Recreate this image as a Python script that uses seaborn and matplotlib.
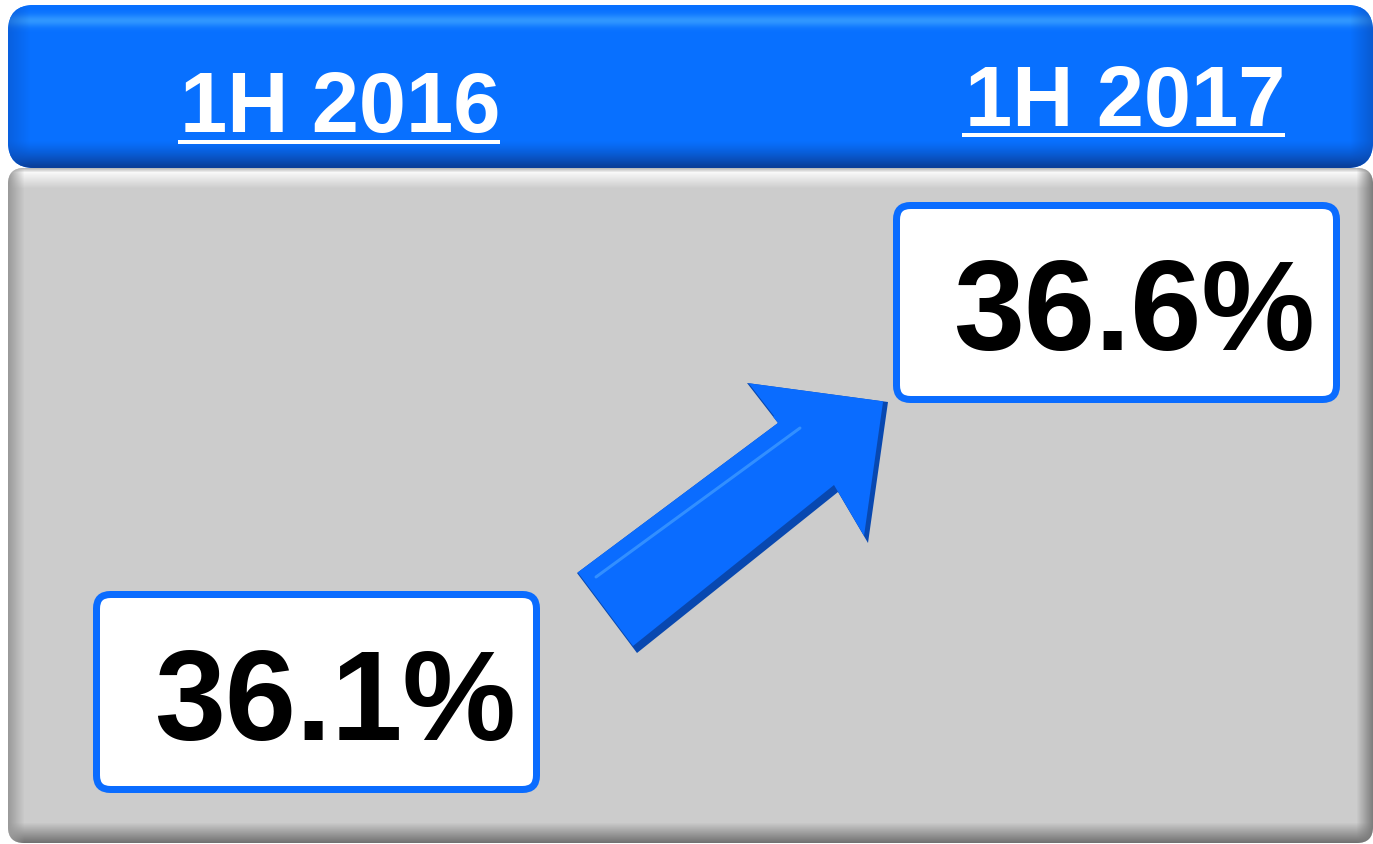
import numpy as np
import matplotlib
matplotlib.use("Agg")
import matplotlib.pyplot as plt
from matplotlib.patches import FancyBboxPatch, Polygon
import seaborn as sns

# ---- data ----
periods = ["1H 2016", "1H 2017"]
ratios = [36.1, 36.6]

sns.set_theme(style="white")
plt.rcParams['font.family'] = ['Liberation Sans', 'DejaVu Sans']

W, H = 1373, 844
fig = plt.figure(figsize=(W / 100, H / 100), dpi=100)
fig.patch.set_facecolor("white")
ax = fig.add_axes([0, 0, 1, 1])
ax.set_xlim(0, W)
ax.set_ylim(H, 0)
ax.axis("off")

PX = 72 / 100  # points per pixel


def rgb(h):
    return np.array(matplotlib.colors.to_rgb(h))


# ---- gray panel ----
px0, px1, py0, py1 = 8, 1373, 168, 843
panel = FancyBboxPatch((px0, py0), px1 - px0, py1 - py0,
                       boxstyle="round,pad=0,rounding_size=16",
                       fc="#cccccc", ec="none", zorder=1)
ax.add_patch(panel)
gray = rgb("#cccccc")
nx, ny = px1 - px0, py1 - py0
img = np.ones((ny, nx, 3)) * gray
ys = np.arange(ny) + py0
xs = np.arange(nx) + px0
top = rgb("#f8f8f8")
for i, y in enumerate(ys):
    if y < 188:
        t = np.clip((y - 172) / 16, 0, 1)
        img[i] = top * (1 - t) + gray * t
    if y < 172:
        t = (172 - y) / 4
        img[i] = top * (1 - t) + rgb("#bbbbbb") * t
for i, y in enumerate(ys):
    if y > 822:
        t = np.clip((y - 822) / 21, 0, 1)
        img[i] = img[i] * (1 - t) + rgb("#6e6e6e") * t
for j, x in enumerate(xs):
    if x > 1356:
        t = np.clip((x - 1356) / 17, 0, 1)
        img[:, j] = img[:, j] * (1 - t) + rgb("#7a7a7a") * t
    if x < 24:
        t = np.clip((24 - x) / 16, 0, 1)
        img[:, j] = img[:, j] * (1 - t) + rgb("#9a9a9a") * t
im = ax.imshow(img, extent=(px0, px1, py1, py0), zorder=2, aspect="auto",
               interpolation="bilinear")
im.set_clip_path(panel)

# ---- blue header ----
hx0, hx1, hy0, hy1 = 8, 1373, 5, 168
header = FancyBboxPatch((hx0, hy0), hx1 - hx0, hy1 - hy0,
                        boxstyle="round,pad=0,rounding_size=26",
                        fc="#0870ff", ec="none", zorder=3)
ax.add_patch(header)
blue = rgb("#0870ff")
nx, ny = hx1 - hx0, hy1 - hy0
himg = np.ones((ny, nx, 3)) * blue
ys = np.arange(ny) + hy0
xs = np.arange(nx) + hx0
for i, y in enumerate(ys):
    if y < 32:
        t = np.exp(-((y - 20) / 6.0) ** 2) * 0.8
        himg[i] = blue * (1 - t) + rgb("#3aa0ff") * t
    if y > 140:
        t = np.clip((y - 140) / 26, 0, 1) ** 1.3
        himg[i] = himg[i] * (1 - t) + rgb("#0a3f9a") * t
for j, x in enumerate(xs):
    if x < 30:
        t = np.clip((30 - x) / 22, 0, 1) * 0.5
        himg[:, j] = himg[:, j] * (1 - t) + rgb("#0a50c0") * t
    if x > 1350:
        t = np.clip((x - 1350) / 23, 0, 1) * 0.6
        himg[:, j] = himg[:, j] * (1 - t) + rgb("#0a4ab0") * t
him = ax.imshow(himg, extent=(hx0, hx1, hy1, hy0), zorder=4, aspect="auto",
                interpolation="bilinear")
him.set_clip_path(header)

# ---- header labels ----
head_pos = [(340, 132, 178, 500, 142), (1125, 126, 962, 1285, 135)]
for label, (cx, base, ux0, ux1, uy) in zip(periods, head_pos):
    ax.text(cx, base, label, color="white", fontsize=61, fontweight="bold",
            ha="center", va="baseline", zorder=6)
    ax.plot([ux0, ux1], [uy, uy], color="white", lw=4 * PX,
            solid_capstyle="butt", zorder=6)

# ---- value boxes ----
box_pos = [(96.5, 594.5, 440, 195, 335, 740),
           (896.5, 205.5, 440, 194, 1134, 350)]
for val, (bx, by, bw, bh, tx, ty) in zip(ratios, box_pos):
    box = FancyBboxPatch((bx, by), bw, bh,
                         boxstyle="round,pad=0,rounding_size=14",
                         fc="white", ec="#0a6cff", lw=7 * PX, zorder=7)
    ax.add_patch(box)
    ax.text(tx, ty, f"{val:.1f}%", color="black", fontsize=92,
            fontweight="bold", ha="center", va="baseline", zorder=8)

# ---- arrow ----
arrow_pts = np.array([(577, 573), (778, 423), (747, 383), (888, 402),
                      (868, 543), (838, 492), (637, 653)], dtype=float)
base_poly = Polygon(arrow_pts, closed=True, fc="#0848b0", ec="none", zorder=5)
ax.add_patch(base_poly)
main_poly = Polygon(arrow_pts + np.array([-4, -7]), closed=True,
                    fc="#0a6cff", ec="none", zorder=5.2)
ax.add_patch(main_poly)
main_poly.set_clip_path(base_poly)
ax.plot([596, 800], [577, 428], color="#3d98ff", lw=3 * PX, zorder=5.4,
        solid_capstyle="round", alpha=0.8)

fig.savefig("out.png", dpi=100)
